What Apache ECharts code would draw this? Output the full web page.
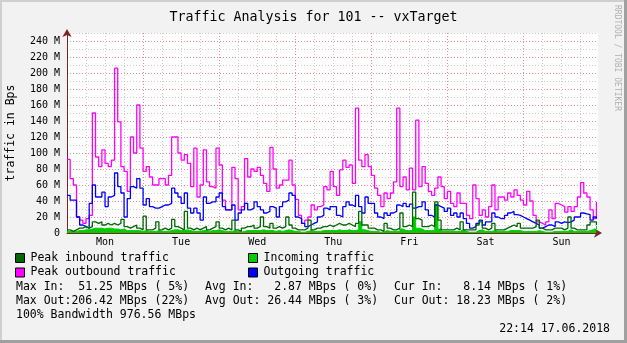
<!DOCTYPE html>
<html>
<head>
<meta charset="utf-8">
<script src="https://cdn.jsdelivr.net/npm/echarts@6/dist/echarts.min.js"></script>
<style>
html,body{margin:0;padding:0;background:#f2f2f2;}
#chart{width:627px;height:343px;}
</style>
</head>
<body>
<div id="chart"></div>
<script>
// Day labels (centred at noon of each day), x axis in hours from Monday 00:00
const DAYS = ['Mon', 'Tue', 'Wed', 'Thu', 'Fri', 'Sat', 'Sun'];

// Hourly values in MBps
const peakOut = [
  92, 68, 60, 20, 16, 12, 18, 22, 150, 95, 83, 104, 87, 83, 91, 206, 139, 83, 77, 52, 120, 100, 160, 106, 77, 83, 70, 60, 60, 68, 68, 60, 72, 120,
  120, 100, 91, 98, 87, 58, 106, 45, 60, 104, 64, 58, 56, 106, 85, 41, 29, 29, 82, 68, 29, 33, 93, 70, 80, 77, 82, 72, 62, 52, 107, 80, 56,
  60, 66, 66, 91, 60, 42, 22, 12, 16, 20, 35, 29, 33, 35, 58, 54, 77, 58, 47, 79, 91, 82, 85, 62, 156, 91, 83, 98, 83, 72, 56, 47, 33, 50,
  43, 50, 64, 156, 58, 70, 54, 81, 54, 141, 58, 83, 62, 52, 47, 56, 70, 58, 43, 52, 37, 33, 50, 37, 37, 22, 18, 60, 43, 22, 29, 20, 33, 60,
  29, 45, 45, 41, 50, 45, 54, 47, 41, 35, 52, 40, 22, 14, 12, 10, 14, 29, 18, 37, 35, 33, 26, 33, 27, 33, 45, 63, 50, 45, 29, 18, 39
];
const outgoing = [
  47, 41, 41, 20, 10, 8, 6, 37, 60, 45, 45, 51, 33, 45, 47, 75, 58, 50, 20, 43, 58, 56, 68, 56, 35, 43, 33, 31, 31, 33, 35, 35, 37, 56,
  50, 45, 37, 50, 31, 25, 31, 25, 16, 45, 37, 39, 39, 45, 50, 33, 29, 29, 35, 16, 25, 29, 37, 29, 31, 39, 33, 29, 25, 27, 33, 31, 20,
  33, 39, 41, 50, 47, 20, 18, 12, 8, 10, 12, 14, 20, 22, 31, 29, 33, 33, 22, 20, 33, 39, 35, 33, 47, 33, 25, 45, 37, 37, 25, 20, 18, 25,
  22, 25, 27, 35, 33, 37, 33, 36, 31, 33, 33, 39, 29, 22, 20, 35, 33, 31, 27, 31, 22, 25, 20, 25, 18, 12, 6, 8, 12, 16, 10, 14, 14, 25,
  20, 18, 18, 22, 25, 27, 23, 22, 20, 18, 16, 14, 12, 10, 6, 8, 10, 10, 8, 14, 12, 14, 13, 14, 16, 20, 20, 25, 24, 23, 16, 20, 18
];
const peakIn = [
  4, 2, 4, 6, 6, 8, 6, 8, 14, 12, 14, 10, 12, 10, 12, 10, 12, 17, 8, 6, 8, 10, 6, 4, 21, 4, 4, 6, 14, 4, 6, 4, 6, 17,
  8, 6, 4, 27, 6, 4, 6, 4, 6, 8, 4, 6, 8, 14, 6, 4, 6, 4, 16, 4, 2, 6, 8, 8, 10, 6, 8, 20, 8, 6, 12, 6, 8,
  6, 8, 20, 10, 6, 4, 4, 4, 6, 16, 4, 6, 6, 8, 8, 10, 8, 10, 12, 10, 10, 12, 10, 8, 12, 27, 10, 10, 6, 6, 4, 4, 2, 12,
  6, 4, 4, 6, 25, 8, 10, 8, 51, 18, 16, 8, 8, 10, 8, 39, 16, 4, 4, 4, 4, 6, 4, 14, 4, 4, 4, 4, 10, 14, 6, 4, 6, 12,
  4, 4, 4, 6, 8, 10, 8, 12, 6, 6, 6, 6, 8, 16, 6, 4, 4, 4, 6, 6, 6, 4, 6, 20, 6, 4, 4, 4, 4, 10, 14, 14, 10
];
const incoming = [
  2, 2, 2, 3, 3, 4, 4, 5, 6, 6, 6, 5, 6, 6, 5, 5, 4, 5, 3, 3, 3, 3, 3, 2, 3, 2, 2, 2, 3, 2, 2, 2, 3, 4,
  4, 3, 3, 4, 3, 2, 2, 2, 3, 3, 2, 3, 3, 4, 3, 2, 2, 2, 3, 2, 1, 2, 3, 3, 3, 3, 3, 4, 3, 3, 3, 2, 3,
  2, 3, 4, 3, 2, 2, 1, 1, 2, 3, 2, 2, 2, 3, 3, 3, 3, 3, 4, 3, 3, 4, 3, 3, 4, 14, 4, 3, 2, 2, 2, 1, 1, 3,
  2, 2, 2, 2, 5, 3, 3, 3, 20, 6, 5, 3, 3, 3, 3, 36, 5, 2, 2, 2, 2, 2, 2, 4, 2, 1, 1, 1, 3, 4, 2, 2, 2, 3,
  2, 2, 2, 2, 3, 3, 3, 3, 2, 2, 2, 2, 2, 3, 2, 1, 1, 1, 2, 2, 2, 2, 2, 4, 2, 2, 2, 2, 2, 3, 4, 5, 9
];

const statsRow1 = ['Max In:  51.25 MBps ( 5%)', 'Avg In:   2.87 MBps ( 0%)', 'Cur In:   8.14 MBps ( 1%)'];
const statsRow2 = ['Max Out:206.42 MBps (22%)', 'Avg Out: 26.44 MBps ( 3%)', 'Cur Out: 18.23 MBps ( 2%)'];
const bandwidthText = '100% Bandwidth 976.56 MBps';
const dateText = '22:14 17.06.2018';

const MONO = '"DejaVu Sans Mono", monospace';
const toPairs = arr => arr.map((v, i) => [i, v]);

const chart = echarts.init(document.getElementById('chart'), null, {renderer: 'canvas'});

const legendCommon = {
  icon: 'rect', itemWidth: 9, itemHeight: 9, padding: 0, itemGap: 0, selectedMode: false,
  itemStyle: {borderColor: '#000', borderWidth: 1},
  textStyle: {fontFamily: MONO, fontSize: 11.5, color: '#000', padding: [0, 0, 0, 1]}
};

const statTexts = [];
const colX = [16, 205, 394];
statsRow1.forEach((t, i) => statTexts.push({type: 'text', x: colX[i], y: 287, style: {text: t, font: '11.5px ' + MONO, fill: '#000', verticalAlign: 'middle'}}));
statsRow2.forEach((t, i) => statTexts.push({type: 'text', x: colX[i], y: 301.5, style: {text: t, font: '11.5px ' + MONO, fill: '#000', verticalAlign: 'middle'}}));

const X_BASE = {type: 'value', min: 0, max: 167.5, position: 'bottom', offset: 0, gridIndex: 0};
const Y_BASE = {type: 'value', min: 0, max: 250, position: 'left', offset: 0, gridIndex: 0};

chart.setOption({
  animation: false,
  backgroundColor: '#f2f2f2',
  title: {
    text: 'Traffic Analysis for 101 -- vxTarget',
    left: 'center', top: 6,
    textStyle: {fontFamily: MONO, fontSize: 13.3, fontWeight: 'normal', color: '#000'}
  },
  grid: {left: 67, top: 33, width: 531, height: 200, show: true, backgroundColor: '#ffffff', borderWidth: 0, containLabel: false, outerBoundsMode: 'none'},
  legend: [
    Object.assign({data: ['Peak inbound traffic'], left: 15, top: 252}, legendCommon),
    Object.assign({data: ['Peak outbound traffic'], left: 15, top: 266.5}, legendCommon),
    Object.assign({data: ['Incoming traffic'], left: 248, top: 252}, legendCommon),
    Object.assign({data: ['Outgoing traffic'], left: 248, top: 266.5}, legendCommon)
  ],
  xAxis: [
    Object.assign({}, X_BASE, {
      interval: 6,
      axisLine: {show: true, onZero: false, lineStyle: {color: '#7a2525', width: 1}, symbol: ['none', 'arrow'], symbolSize: [7, 8], symbolOffset: [0, 4]},
      axisTick: {show: false}, axisLabel: {show: false},
      splitLine: {show: true, showMinLine: false, showMaxLine: false, lineStyle: {color: '#cccccc', type: [1, 2], width: 1}}
    }),
    Object.assign({}, X_BASE, {
      interval: 24,
      axisLine: {show: false}, axisTick: {show: false}, axisLabel: {show: false},
      splitLine: {show: true, showMinLine: false, showMaxLine: false, lineStyle: {color: '#e09090', type: [1, 2], width: 1}}
    }),
    Object.assign({}, X_BASE, {
      interval: 12,
      axisLine: {show: false}, axisTick: {show: false}, splitLine: {show: false},
      axisLabel: {
        show: true, margin: 4, fontFamily: MONO, fontSize: 10, color: '#000',
        showMinLabel: false, showMaxLabel: false,
        formatter: v => (v % 24 === 12 ? DAYS[(v - 12) / 24] : '')
      }
    })
  ],
  yAxis: [
    Object.assign({}, Y_BASE, {
      interval: 10,
      axisLine: {show: false}, axisTick: {show: false}, axisLabel: {show: false},
      splitLine: {show: true, showMinLine: false, showMaxLine: true, lineStyle: {color: '#cccccc', type: [1, 2], width: 1}}
    }),
    Object.assign({}, Y_BASE, {
      interval: 20,
      name: 'traffic in Bps', nameLocation: 'middle', nameGap: 50,
      nameTextStyle: {fontFamily: MONO, fontSize: 11.5, color: '#000'},
      axisLine: {show: true, onZero: false, lineStyle: {color: '#7a2525', width: 1}, symbol: ['none', 'arrow'], symbolSize: [7, 8], symbolOffset: [0, 4]},
      axisTick: {show: false},
      axisLabel: {
        margin: 7, fontFamily: MONO, fontSize: 10, color: '#000', showMaxLabel: false,
        formatter: v => (v > 240 ? '' : (v === 0 ? '0' : v + ' M'))
      },
      splitLine: {show: true, showMinLine: false, showMaxLine: false, lineStyle: {color: '#e09090', type: [1, 2], width: 1}}
    })
  ],
  series: [
    {
      name: 'Incoming traffic', type: 'line', step: 'end', xAxisIndex: 0, yAxisIndex: 1,
      data: toPairs(incoming), symbol: 'none', color: '#00cc00',
      lineStyle: {width: 1, color: '#00cc00'}, areaStyle: {color: '#00cc00', opacity: 1}, z: 2
    },
    {
      name: 'Peak outbound traffic', type: 'line', step: 'end', xAxisIndex: 0, yAxisIndex: 1,
      data: toPairs(peakOut), symbol: 'none', color: '#ff00ff',
      lineStyle: {width: 1.3, color: '#ff00ff'}, z: 3
    },
    {
      name: 'Outgoing traffic', type: 'line', step: 'end', xAxisIndex: 0, yAxisIndex: 1,
      data: toPairs(outgoing), symbol: 'none', color: '#0000ff',
      lineStyle: {width: 1.3, color: '#0000ff'}, z: 4
    },
    {
      name: 'Peak inbound traffic', type: 'line', step: 'end', xAxisIndex: 0, yAxisIndex: 1,
      data: toPairs(peakIn), symbol: 'none', color: '#006600',
      lineStyle: {width: 1.3, color: '#006600'}, z: 5
    }
  ],
  graphic: [
    {type: 'rect', shape: {x: 0, y: 0, width: 627, height: 2}, style: {fill: '#cfcfcf'}, silent: true},
    {type: 'rect', shape: {x: 0, y: 0, width: 2, height: 343}, style: {fill: '#cfcfcf'}, silent: true},
    {type: 'rect', shape: {x: 624, y: 0, width: 3, height: 343}, style: {fill: '#a0a0a0'}, silent: true},
    {type: 'rect', shape: {x: 0, y: 340, width: 627, height: 3}, style: {fill: '#a0a0a0'}, silent: true},
    {type: 'text', x: 617.5, y: 5, rotation: -Math.PI / 2,
      style: {text: 'RRDTOOL / TOBI OETIKER', font: '8px ' + MONO, fill: '#b0b0b0', align: 'left', verticalAlign: 'middle'}},
    ...statTexts,
    {type: 'text', x: 16, y: 315.5, style: {text: bandwidthText, font: '11.5px ' + MONO, fill: '#000', verticalAlign: 'middle'}},
    {type: 'text', x: 610, y: 329, style: {text: dateText, font: '11.5px ' + MONO, fill: '#000', align: 'right', verticalAlign: 'middle'}}
  ]
});
</script>
</body>
</html>
